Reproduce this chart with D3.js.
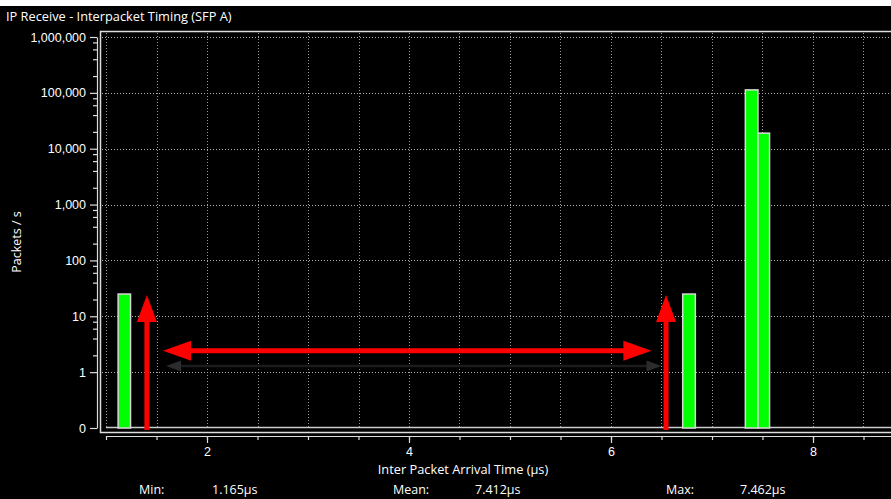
<!DOCTYPE html>
<html>
<head>
<meta charset="utf-8">
<script src="https://cdn.jsdelivr.net/npm/d3@7"></script>
<style>
  html, body { margin: 0; padding: 0; background: #000; }
  svg { display: block; font-family: "Open Sans", "Noto Sans", sans-serif; }
  .axis text { fill: #fff; font-size: 12.5px; }
  .axis path, .axis line { stroke: #ddd; stroke-width: 1.2; }
</style>
</head>
<body>
<svg id="chart" width="891" height="499"></svg>
<script>
// histogram bins: start, end (µs), packets / s
const binStart = [1.12, 6.71, 7.33, 7.455];
const binEnd = [1.243, 6.835, 7.455, 7.57];
const binValue = [25, 25, 113000, 19000];

const yMajor = [0.1, 1, 10, 100, 1000, 10000, 100000, 1000000];
const yLabels = ['0', '1', '10', '100', '1,000', '10,000', '100,000', '1,000,000'];
const xMajor = [2, 4, 6, 8];
const xGrid = [1, 1.5, 2, 2.5, 3, 3.5, 4, 4.5, 5, 5.5, 6, 6.5, 7, 7.5, 8, 8.5];

const statNames = ['Min:', 'Mean:', 'Max:'];
const statValues = ['1.165µs', '7.412µs', '7.462µs'];

// red annotation arrows (data coordinates)
const vArrowX = [1.405, 6.545];
const vArrowTop = 24;
const hArrow = { from: 1.565, to: 6.4, y: 2.42 };
const greyArrow = { from: 1.595, to: 6.5, y: 1.29 };

const W = 891, H = 499;
const svg = d3.select('#chart');

svg.append('rect').attr('width', W).attr('height', H).attr('fill', '#000');
svg.append('rect').attr('width', W).attr('height', 6).attr('fill', '#fff');

svg.append('text')
  .attr('x', 6).attr('y', 21)
  .attr('fill', '#fff').attr('font-size', 12.8)
  .text('IP Receive - Interpacket Timing (SFP A)');

const x = d3.scaleLinear().domain([1, 8.8]).range([106, 106 + 7.8 * 101]);
const y = d3.scaleLog().domain([0.1, 1e6]).range([428, 37]);

// grid
const grid = svg.append('g')
  .attr('stroke', '#b0b0b0').attr('stroke-width', 1).attr('stroke-dasharray', '1,2');
grid.selectAll('line.h')
  .data(yMajor.slice(1))
  .join('line')
  .attr('x1', 102).attr('x2', W)
  .attr('y1', d => Math.round(y(d)) + 0.5).attr('y2', d => Math.round(y(d)) + 0.5);
grid.selectAll('line.v')
  .data(xGrid)
  .join('line')
  .attr('stroke', '#999')
  .attr('x1', d => Math.round(x(d)) + 0.5).attr('x2', d => Math.round(x(d)) + 0.5)
  .attr('y1', 33).attr('y2', 427);

// frame
svg.append('rect')
  .attr('x', 100.5).attr('y', 31.5).attr('width', W).attr('height', 401)
  .attr('fill', 'none').attr('stroke', '#ddd').attr('stroke-width', 1.5);

// baseline
svg.append('line')
  .attr('x1', 106).attr('x2', W).attr('y1', 427.5).attr('y2', 427.5)
  .attr('stroke', '#ccc').attr('stroke-width', 1.5);

// bars
svg.append('g').selectAll('rect')
  .data(binValue)
  .join('rect')
  .attr('x', (d, i) => x(binStart[i]))
  .attr('width', (d, i) => x(binEnd[i]) - x(binStart[i]))
  .attr('y', d => y(d))
  .attr('height', d => y(0.1) - y(d))
  .attr('fill', '#00ff00')
  .attr('stroke', '#d8d8d8').attr('stroke-width', 1.5);

// y axis
const minorY = [];
yMajor.slice(1, -1).forEach(d => [2, 4, 6, 8].forEach(k => minorY.push(d * k)));
svg.append('g')
  .attr('class', 'axis')
  .attr('transform', 'translate(97,0)')
  .call(d3.axisLeft(y).tickValues(minorY).tickSize(4).tickSizeOuter(0).tickFormat(''));
svg.append('g')
  .attr('class', 'axis')
  .attr('transform', 'translate(97,0)')
  .call(d3.axisLeft(y).tickValues(yMajor).tickSize(7).tickSizeOuter(0)
    .tickPadding(4).tickFormat((d, i) => yLabels[i]))
  .call(g => g.select('.domain').remove());

// x axis
svg.append('g')
  .attr('class', 'axis')
  .attr('transform', 'translate(0,436)')
  .call(d3.axisBottom(x).tickValues(xGrid).tickSize(4).tickSizeOuter(0).tickFormat(''));
svg.append('g')
  .attr('class', 'axis')
  .attr('transform', 'translate(0,436)')
  .call(d3.axisBottom(x).tickValues(xMajor).tickSize(7).tickSizeOuter(0).tickPadding(4).tickFormat(d3.format('d')))
  .call(g => g.select('.domain').remove());

// axis titles
svg.append('text')
  .attr('transform', 'translate(21,242) rotate(-90)')
  .attr('text-anchor', 'middle').attr('fill', '#fff').attr('font-size', 12.5)
  .text('Packets / s');
svg.append('text')
  .attr('x', 463).attr('y', 474)
  .attr('text-anchor', 'middle').attr('fill', '#fff').attr('font-size', 12.8)
  .text('Inter Packet Arrival Time (µs)');

// stats
const statNameX = [139, 393, 666];
const statValX = [212, 475, 740];
svg.append('g').selectAll('text')
  .data(statNames)
  .join('text')
  .attr('x', (d, i) => statNameX[i]).attr('y', 494)
  .attr('fill', '#fff').attr('font-size', 12.5)
  .text(d => d);
svg.append('g').selectAll('text')
  .data(statValues)
  .join('text')
  .attr('x', (d, i) => statValX[i]).attr('y', 494)
  .attr('fill', '#fff').attr('font-size', 12.5)
  .text(d => d);

// arrows
function arrowPath(x1, y1, x2, y2, shaft, headW, headL) {
  const dx = x2 - x1, dy = y2 - y1;
  const len = Math.hypot(dx, dy);
  const ux = dx / len, uy = dy / len, nx = -uy, ny = ux;
  const bx = x2 - ux * headL, by = y2 - uy * headL;
  const pts = [
    [x1 + nx * shaft / 2, y1 + ny * shaft / 2],
    [bx + nx * shaft / 2, by + ny * shaft / 2],
    [bx + nx * headW / 2, by + ny * headW / 2],
    [x2, y2],
    [bx - nx * headW / 2, by - ny * headW / 2],
    [bx - nx * shaft / 2, by - ny * shaft / 2],
    [x1 - nx * shaft / 2, y1 - ny * shaft / 2]
  ];
  return 'M' + pts.map(p => p.join(',')).join('L') + 'Z';
}

const ann = svg.append('g');
// faint grey double arrow under the red one
ann.append('line')
  .attr('x1', x(greyArrow.from) + 10).attr('x2', x(greyArrow.to) - 10)
  .attr('y1', y(greyArrow.y)).attr('y2', y(greyArrow.y))
  .attr('stroke', '#1c1c1c').attr('stroke-width', 2.5);
[[greyArrow.to, greyArrow.from], [greyArrow.from, greyArrow.to]].forEach(([a, b]) => {
  const dir = Math.sign(x(b) - x(a));
  ann.append('path')
    .attr('d', arrowPath(x(b) - dir * 15, y(greyArrow.y), x(b), y(greyArrow.y), 2.5, 11, 15))
    .attr('fill', '#2c2c2c');
});
// red vertical arrows
vArrowX.forEach(v => {
  ann.append('path')
    .attr('d', arrowPath(x(v), y(0.1) + 2, x(v), y(vArrowTop), 5, 20, 27))
    .attr('fill', '#ff0000');
});
// red horizontal double arrow
const hMid = (x(hArrow.from) + x(hArrow.to)) / 2;
[hArrow.from, hArrow.to].forEach(v => {
  ann.append('path')
    .attr('d', arrowPath(hMid, y(hArrow.y), x(v), y(hArrow.y), 5, 20, 28))
    .attr('fill', '#ff0000');
});
</script>
</body>
</html>
